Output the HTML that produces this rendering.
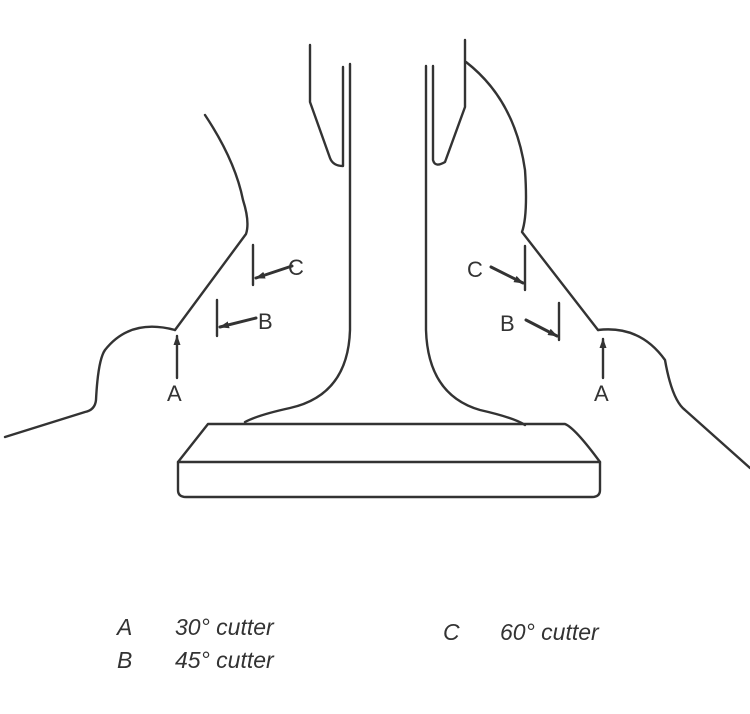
<!DOCTYPE html>
<html><head><style>
html,body{margin:0;padding:0;background:#fff;}
svg{display:block}
text{font-family:"Liberation Sans",sans-serif;fill:#333;}
</style></head><body>
<svg width="750" height="714" viewBox="0 0 750 714" xmlns="http://www.w3.org/2000/svg">
<defs>
<marker id="ah" markerWidth="10" markerHeight="7" refX="9" refY="3.5" orient="auto" markerUnits="userSpaceOnUse">
<path d="M0,0 L10,3.5 L0,7 z" fill="#333"/></marker>
</defs>
<g fill="none" stroke="#333" stroke-width="2.4" stroke-linecap="round" stroke-linejoin="round">
<path d="M310,45 L310,102 L330,158 Q333,166 343,166 L343,67"/>
<path d="M350,64 L350,330 Q348,395 290,408 Q258,415 245,422"/>
<path d="M426,66 L426,330 Q428,395 480,410 Q515,418 525,425"/>
<path d="M433,66 L433,160 Q435,168 445,162 L465,107 L465,40"/>
<path d="M466,62 Q515,100 525,170 Q528,215 522,232 L598,330"/>
<path d="M598,330 Q640,325 665,360 Q672,400 685,410 L750,468"/>
<path d="M205,115 Q235,160 243,200 Q250,222 246,234 L175,330"/>
<path d="M175,330 Q130,318 105,350 Q98,360 96,400 Q95,410 85,412 L5,437"/>
<path d="M208,424 L565,424 Q575,428 600,462 L600,490 Q600,497 592,497 L186,497 Q178,497 178,490 L178,462 Z"/>
<path d="M178,462 L600,462"/>
<path d="M253,245 L253,285"/>
<path d="M292,266 L256,278" stroke-width="3" marker-end="url(#ah)"/>
<path d="M217,300 L217,336"/>
<path d="M256,318 L220,327" stroke-width="3" marker-end="url(#ah)"/>
<path d="M177,378 L177,336" marker-end="url(#ah)"/>
<path d="M525,246 L525,290"/>
<path d="M491,267 L523,283" stroke-width="3" marker-end="url(#ah)"/>
<path d="M559,303 L559,340"/>
<path d="M526,320 L557,336" stroke-width="3" marker-end="url(#ah)"/>
<path d="M603,378 L603,339" marker-end="url(#ah)"/>
</g>
<g font-size="22">
<text x="288" y="275">C</text>
<text x="258" y="329">B</text>
<text x="167" y="401">A</text>
<text x="467" y="277">C</text>
<text x="500" y="331">B</text>
<text x="594" y="401">A</text>
</g>
<g font-size="23" font-style="italic">
<text x="117" y="635">A</text><text x="175" y="635">30° cutter</text>
<text x="117" y="668">B</text><text x="175" y="668">45° cutter</text>
<text x="443" y="640">C</text><text x="500" y="640">60° cutter</text>
</g>
</svg>
</body></html>
